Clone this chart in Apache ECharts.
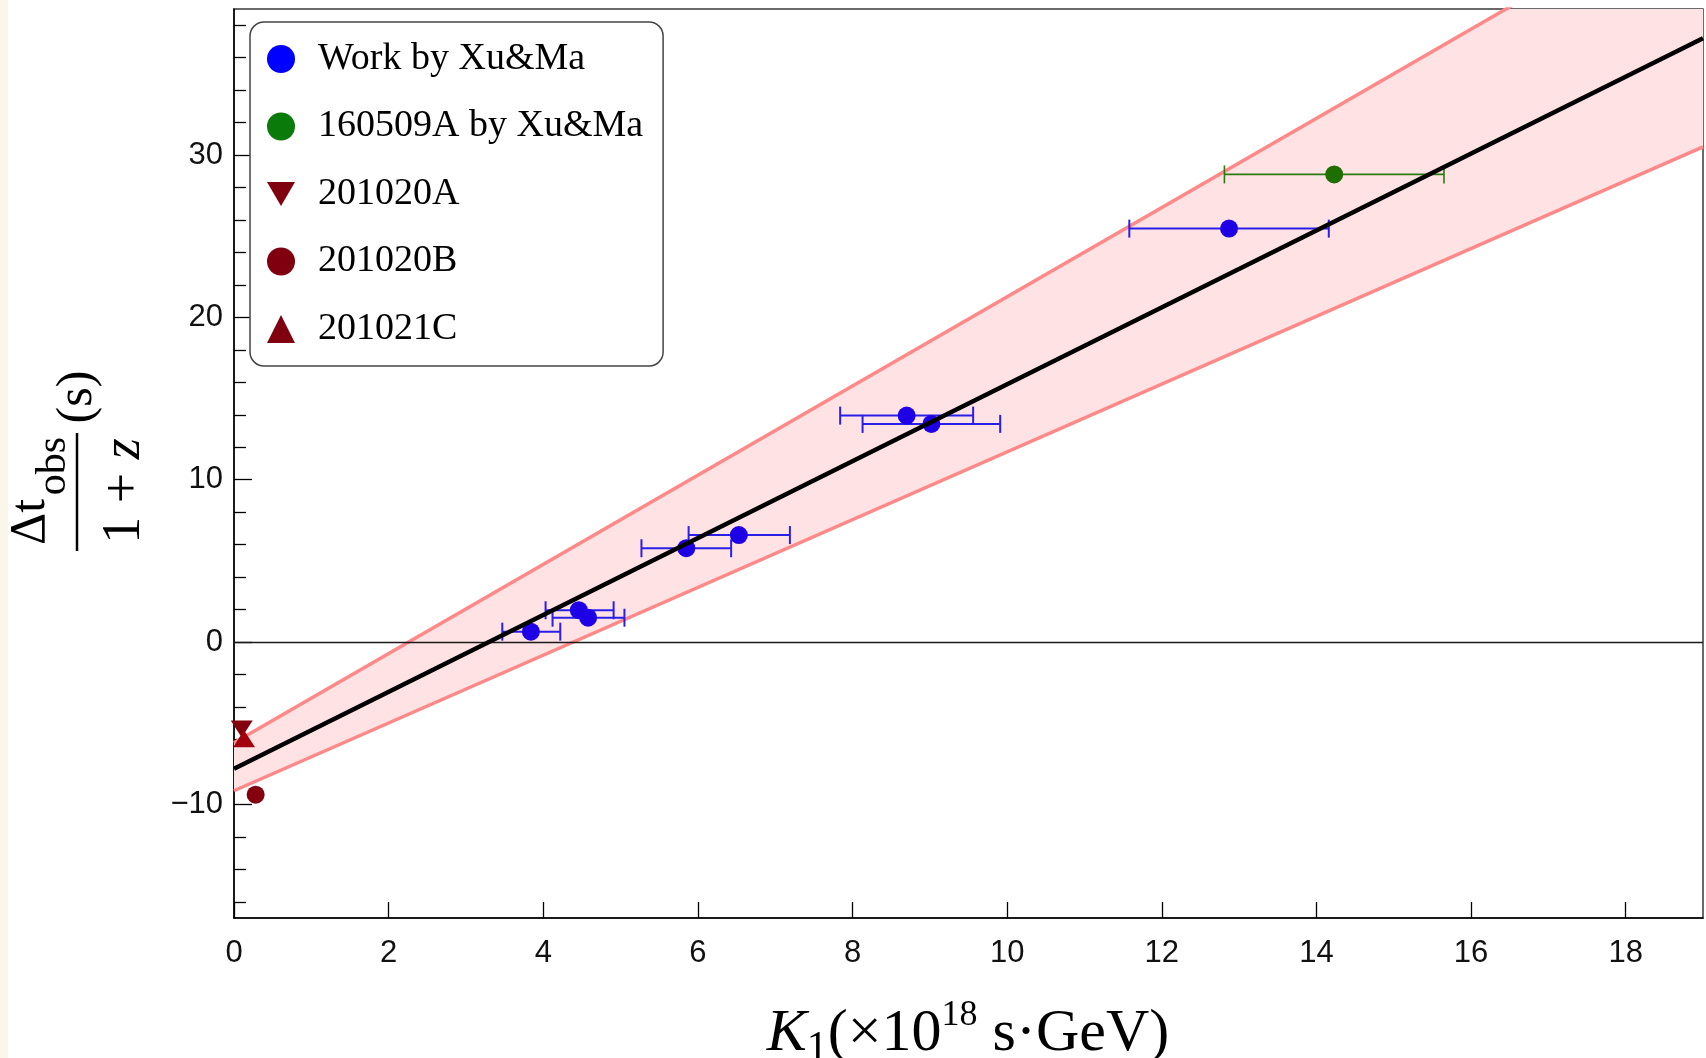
<!DOCTYPE html>
<html>
<head>
<meta charset="utf-8">
<script src="https://cdn.jsdelivr.net/npm/echarts@6/dist/echarts.min.js"></script>
<style>
html,body{margin:0;padding:0;background:#ffffff;}
#chart{width:1706px;height:1058px;}
</style>
</head>
<body>
<div id="chart"></div>
<script>
// ---- data ----
const workK     = [3.84, 4.46, 4.58, 5.85, 6.53, 8.70, 9.02, 12.87];
const workDt    = [0.64, 1.96, 1.50, 5.78, 6.59, 13.95, 13.44, 25.47];
const workKLow  = [3.47, 4.03, 4.12, 5.27, 5.88, 7.84, 8.13, 11.58];
const workKHigh = [4.22, 4.91, 5.05, 6.43, 7.19, 9.56, 9.91, 14.16];

const grbK     = [14.23];
const grbDt    = [28.81];
const grbKLow  = [12.81];
const grbKHigh = [15.65];

const aK = [0.10], aDt = [-5.35];   // 201020A
const bK = [0.28], bDt = [-9.40];   // 201020B
const cK = [0.13], cDt = [-5.95];   // 201021C

const fitX       = [0, 19];
const fitY       = [-7.8, 37.2];
const bandUpperY = [-6.2, 46.0];
const bandLowerY = [-9.16, 30.5];

const xTicks      = [0, 2, 4, 6, 8, 10, 12, 14, 16, 18];
const yTicks      = [-10, 0, 10, 20, 30];
const yMinorTicks = [-16, -14, -12, -8, -6, -4, -2, 2, 4, 6, 8, 12, 14, 16, 18, 22, 24, 26, 28, 32, 34, 36, 38];

const legendNames = ['Work by Xu&Ma', '160509A by Xu&Ma', '201020A', '201020B', '201021C'];

// ---- styles ----
const BLUE = '#1e00e6', GREEN = '#1e6e00', DRED = '#85000f', RED2 = '#a3000e';
const downTri = 'path://M0,0L20,0L10,17Z';

function pairs(xs, ys) { return xs.map((x, i) => [x, ys[i]]); }
function errData(xs, ys, lo, hi) { return xs.map((x, i) => [x, ys[i], lo[i], hi[i]]); }

function errRender(color, width) {
  return function (params, api) {
    const y = api.value(1);
    const p0 = api.coord([api.value(2), y]);
    const p1 = api.coord([api.value(3), y]);
    const h = 9;
    const st = { stroke: color, lineWidth: width };
    return {
      type: 'group',
      children: [
        { type: 'line', shape: { x1: p0[0], y1: p0[1], x2: p1[0], y2: p1[1] }, style: st },
        { type: 'line', shape: { x1: p0[0], y1: p0[1] - h, x2: p0[0], y2: p0[1] + h }, style: st },
        { type: 'line', shape: { x1: p1[0], y1: p1[1] - h, x2: p1[0], y2: p1[1] + h }, style: st }
      ]
    };
  };
}

const bandSegments = fitX.slice(0, -1).map((x, i) => [x, bandUpperY[i], i]);

const chart = echarts.init(document.getElementById('chart'), null, { renderer: 'canvas' });

const option = {
  animation: false,
  backgroundColor: '#ffffff',
  grid: {
    left: 234, right: 3, top: 9, bottom: 140,
    show: true, borderColor: '#3a3a3a', borderWidth: 1.5, backgroundColor: 'transparent',
    containLabel: false, outerBoundsMode: 'none'
  },
  xAxis: [{
    type: 'value', min: 0, max: 19, position: 'bottom',
    axisLine: { show: true, onZero: false, lineStyle: { color: '#000', width: 1.5 } },
    axisTick: { show: true, inside: true, length: 16, customValues: xTicks, lineStyle: { color: '#000', width: 1.3 } },
    axisLabel: { show: true, customValues: xTicks, margin: 20, fontFamily: 'Liberation Sans', fontSize: 31, color: '#111' },
    splitLine: { show: false }
  }],
  yAxis: [{
    type: 'value', min: -17, max: 39, position: 'left',
    axisLine: { show: true, onZero: false, lineStyle: { color: '#000', width: 1.5 } },
    axisTick: { show: true, inside: true, length: 18, customValues: yTicks, lineStyle: { color: '#000', width: 1.3 } },
    axisLabel: { show: true, customValues: yTicks, margin: 11, fontFamily: 'Liberation Sans', fontSize: 31, color: '#111',
      formatter: v => (v < 0 ? '\u2212' + Math.abs(v) : String(v)) },
    splitLine: { show: false }
  }, {
    type: 'value', min: -17, max: 39, position: 'left',
    axisLine: { show: false, onZero: false },
    axisTick: { show: true, inside: true, length: 12, customValues: yMinorTicks, lineStyle: { color: '#000', width: 1.3 } },
    axisLabel: { show: false },
    splitLine: { show: false }
  }],
  legend: {
    left: 250, top: 22, orient: 'vertical',
    padding: [17, 20, 17, 17],
    itemWidth: 28, itemHeight: 28, itemGap: 27.5,
    borderColor: '#444', borderWidth: 1.5, borderRadius: 14, backgroundColor: '#ffffff',
    textStyle: { fontFamily: 'Liberation Serif', fontSize: 38, color: '#000', lineHeight: 40, padding: [0, 0, 0, 18] },
    selectedMode: false,
    data: [
      { name: legendNames[0], icon: 'circle', itemStyle: { color: '#0000ff', opacity: 1 } },
      { name: legendNames[1], icon: 'circle', itemStyle: { color: '#0a7a0a', opacity: 1 } },
      { name: legendNames[2], icon: downTri, itemStyle: { color: '#800010', opacity: 1 } },
      { name: legendNames[3], icon: 'circle', itemStyle: { color: '#800010', opacity: 1 } },
      { name: legendNames[4], icon: 'triangle', itemStyle: { color: '#800010', opacity: 1 } }
    ]
  },
  graphic: [
    { type: 'rect', left: 0, top: 0, z: -100, shape: { width: 8, height: 1058 }, style: { fill: '#faf6ea' } },
    // y-axis title (rotated fraction)
    { type: 'text', x: 31, y: 522, rotation: Math.PI / 2,
      style: { text: '\u0394t', font: '50px "Liberation Serif"', fill: '#000', textAlign: 'center', textVerticalAlign: 'middle' } },
    { type: 'text', x: 54, y: 466, rotation: Math.PI / 2,
      style: { text: 'obs', font: '42px "Liberation Serif"', fill: '#000', textAlign: 'center', textVerticalAlign: 'middle' } },
    { type: 'line', shape: { x1: 77, y1: 433, x2: 77, y2: 551 }, style: { stroke: '#000', lineWidth: 2.5 } },
    { type: 'text', x: 125, y: 491, rotation: Math.PI / 2,
      style: { text: '{n|1 + }{i|z}', textAlign: 'center', textVerticalAlign: 'middle',
        rich: {
          n: { fontFamily: 'Liberation Serif', fontSize: 54, fill: '#000' },
          i: { fontFamily: 'Liberation Serif', fontSize: 54, fontStyle: 'italic', fill: '#000' }
        } } },
    { type: 'text', x: 78, y: 397, rotation: Math.PI / 2,
      style: { text: '(s)', font: '50px "Liberation Serif"', fill: '#000', textAlign: 'center', textVerticalAlign: 'middle' } },
    // x-axis title
    { type: 'text', x: 968, y: 998,
      style: { text: '{k|K}{sub|1}{m|(\u00d710}{sup|18}{m| s\u00b7GeV)}', textAlign: 'center', textVerticalAlign: 'top',
        rich: {
          k: { fontFamily: 'Liberation Serif', fontSize: 60, fontStyle: 'italic', lineHeight: 72, fill: '#000' },
          m: { fontFamily: 'Liberation Serif', fontSize: 60, lineHeight: 72, fill: '#000' },
          sub: { fontFamily: 'Liberation Serif', fontSize: 42, lineHeight: 50, verticalAlign: 'bottom', fill: '#000' },
          sup: { fontFamily: 'Liberation Serif', fontSize: 36, lineHeight: 36, verticalAlign: 'top', fill: '#000' }
        } } }
  ],
  series: [
    {
      name: 'band', type: 'custom', z: 1, silent: true, clip: true,
      data: bandSegments,
      encode: { x: 0, y: 1 },
      renderItem: function (params, api) {
        const i = api.value(2);
        const pts = [
          api.coord([fitX[i], bandUpperY[i]]),
          api.coord([fitX[i + 1], bandUpperY[i + 1]]),
          api.coord([fitX[i + 1], bandLowerY[i + 1]]),
          api.coord([fitX[i], bandLowerY[i]])
        ];
        return { type: 'polygon', shape: { points: pts }, style: { fill: '#ffe2e4' } };
      }
    },
    {
      name: 'bandUpper', type: 'line', z: 3, silent: true, showSymbol: false, clip: true,
      data: pairs(fitX, bandUpperY),
      lineStyle: { color: '#ff8888', width: 3.5 },
      markLine: {
        silent: true, symbol: ['none', 'none'], label: { show: false },
        lineStyle: { color: '#1a1a1a', width: 1.3, type: 'solid' },
        data: [{ yAxis: 0 }]
      }
    },
    {
      name: 'bandLower', type: 'line', z: 3, silent: true, showSymbol: false, clip: true,
      data: pairs(fitX, bandLowerY),
      lineStyle: { color: '#ff8888', width: 3.5 }
    },
    {
      name: 'errWork', type: 'custom', z: 5, silent: true,
      data: errData(workK, workDt, workKLow, workKHigh),
      encode: { x: 0, y: 1 },
      renderItem: errRender('#2a1fe8', 2)
    },
    {
      name: 'errGrb', type: 'custom', z: 5, silent: true,
      data: errData(grbK, grbDt, grbKLow, grbKHigh),
      encode: { x: 0, y: 1 },
      renderItem: errRender('#2a7a10', 1.6)
    },
    { name: legendNames[0], type: 'scatter', z: 6, symbol: 'circle', symbolSize: 18,
      itemStyle: { color: BLUE, opacity: 1 }, data: pairs(workK, workDt) },
    { name: legendNames[1], type: 'scatter', z: 6, symbol: 'circle', symbolSize: 18,
      itemStyle: { color: GREEN, opacity: 1 }, data: pairs(grbK, grbDt) },
    { name: legendNames[2], type: 'scatter', z: 6, symbol: downTri, symbolSize: [22, 17],
      itemStyle: { color: DRED, opacity: 1 }, data: pairs(aK, aDt) },
    { name: legendNames[3], type: 'scatter', z: 6, symbol: 'circle', symbolSize: 18,
      itemStyle: { color: DRED, opacity: 1 }, data: pairs(bK, bDt) },
    { name: legendNames[4], type: 'scatter', z: 6, symbol: 'triangle', symbolSize: [22, 17],
      itemStyle: { color: RED2, opacity: 1 }, data: pairs(cK, cDt) },
    {
      name: 'fit', type: 'line', z: 10, silent: true, showSymbol: false, clip: true,
      data: pairs(fitX, fitY),
      lineStyle: { color: '#000', width: 4.5 }
    }
  ]
};

chart.setOption(option);
</script>
</body>
</html>
